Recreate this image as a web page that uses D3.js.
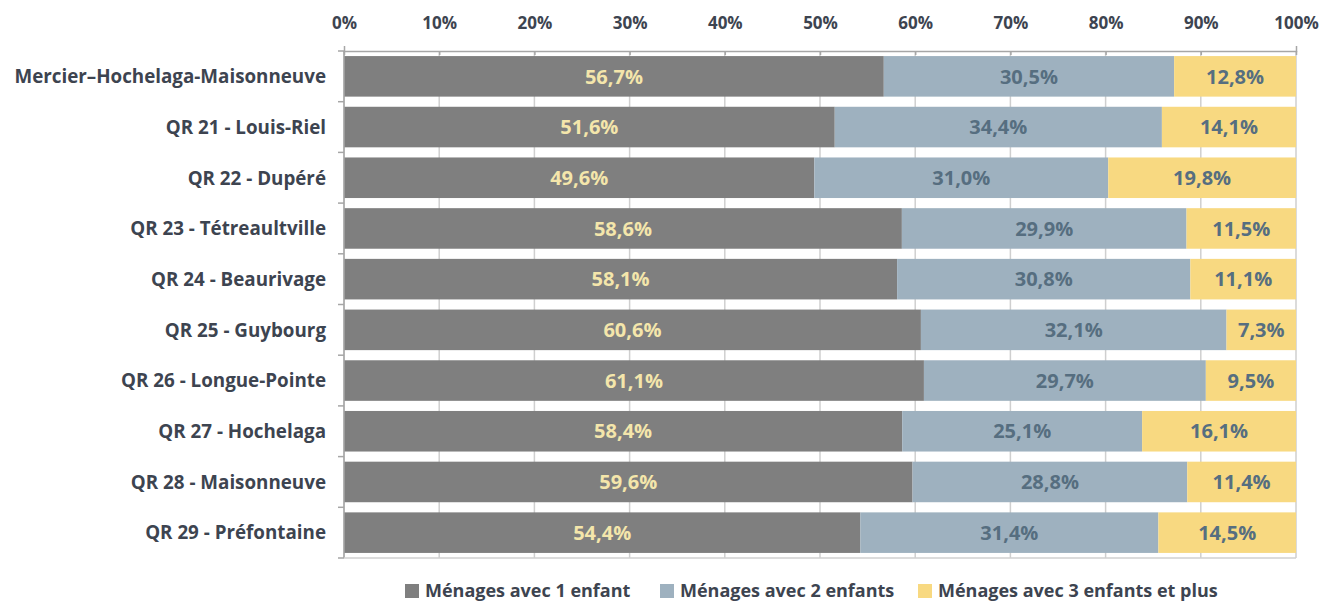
<!DOCTYPE html>
<html>
<head>
<meta charset="utf-8">
<script src="https://cdn.jsdelivr.net/npm/d3@7"></script>
<style>
  body { margin: 0; background: #fff; }
  text { font-family: "Open Sans", Lato, sans-serif; font-weight: bold; }
</style>
</head>
<body>
<div id="chart"></div>
<script>
// data
const categories = [
    "Mercier\u2013Hochelaga-Maisonneuve",
    "QR 21 - Louis-Riel",
    "QR 22 - Dupéré",
    "QR 23 - Tétreaultville",
    "QR 24 - Beaurivage",
    "QR 25 - Guybourg",
    "QR 26 - Longue-Pointe",
    "QR 27 - Hochelaga",
    "QR 28 - Maisonneuve",
    "QR 29 - Préfontaine"
];
const seriesNames = ["Ménages avec 1 enfant", "Ménages avec 2 enfants", "Ménages avec 3 enfants et plus"];
const oneChild = [56.7, 51.6, 49.6, 58.6, 58.1, 60.6, 61.1, 58.4, 59.6, 54.4];
const twoChildren = [30.5, 34.4, 31.0, 29.9, 30.8, 32.1, 29.7, 25.1, 28.8, 31.4];
const threePlus = [12.8, 14.1, 19.8, 11.5, 11.1, 7.3, 9.5, 16.1, 11.4, 14.5];
const tickValues = [0, 10, 20, 30, 40, 50, 60, 70, 80, 90, 100];

const colors = ["#7f7f7f", "#9eb1bf", "#f8d981"];
const labelColors = ["#f4e6ab", "#566e80", "#566e80"];

const margin = { top: 51, right: 26, bottom: 44, left: 344 };
const width = 1322 - margin.left - margin.right;
const height = 602 - margin.top - margin.bottom;

const svg = d3.select("#chart").append("svg")
    .attr("width", 1322)
    .attr("height", 602);

const g = svg.append("g")
    .attr("transform", `translate(${margin.left},${margin.top})`);

const x = d3.scaleLinear().domain([0, 100]).range([0, width]);
const y = d3.scaleBand().domain(categories).range([0, height]).paddingInner(0.2).paddingOuter(0.1);

// gridlines
g.selectAll(".grid")
    .data(tickValues)
    .enter().append("line")
    .attr("x1", d => x(d)).attr("x2", d => x(d))
    .attr("y1", 0).attr("y2", height)
    .attr("stroke", "#cfcfcf")
    .attr("stroke-width", 1.5);

// stacked rows, 100% stacked (normalised by row total like the source chart)
const rows = categories.map((c, i) => ({ cat: c, vals: [oneChild[i], twoChildren[i], threePlus[i]] }));
rows.forEach(r => {
    const total = d3.sum(r.vals);
    let start = 0;
    r.vals.forEach((v, k) => {
        const s = start / total * 100, e = (start + v) / total * 100;
        g.append("rect")
            .attr("x", x(s))
            .attr("y", y(r.cat))
            .attr("width", x(e) - x(s))
            .attr("height", y.bandwidth())
            .attr("fill", colors[k]);
        g.append("text")
            .attr("x", x((s + e) / 2))
            .attr("y", y(r.cat) + y.bandwidth() / 2)
            .attr("dy", "0.36em")
            .attr("text-anchor", "middle")
            .attr("fill", labelColors[k])
            .style("font-size", "20px")
            .text(v.toFixed(1).replace(".", ",") + "%");
        start += v;
    });
});

// top axis
const xAxis = g.append("g")
    .call(d3.axisTop(x).tickValues(tickValues).tickFormat(d => d + "%").tickSize(5).tickPadding(17));
xAxis.select(".domain").attr("stroke", "#a6a6a6").attr("stroke-width", 1.5);
xAxis.selectAll(".tick line").attr("stroke", "#a6a6a6").attr("stroke-width", 1.5).attr("y2", 4);
xAxis.selectAll(".tick text").attr("fill", "#3d4450").style("font-size", "17px");

// left axis with ticks at category boundaries
const yAxis = g.append("g");
yAxis.append("line")
    .attr("x1", 0).attr("x2", 0).attr("y1", 0).attr("y2", height)
    .attr("stroke", "#a6a6a6").attr("stroke-width", 1.5);
const step = y.step();
yAxis.selectAll(".bt")
    .data(d3.range(categories.length + 1))
    .enter().append("line")
    .attr("x1", -6).attr("x2", 0)
    .attr("y1", i => Math.min(i * step, height)).attr("y2", i => Math.min(i * step, height))
    .attr("stroke", "#a6a6a6").attr("stroke-width", 1.5);
yAxis.selectAll(".cl")
    .data(categories)
    .enter().append("text")
    .attr("x", -18)
    .attr("y", d => y(d) + y.bandwidth() / 2)
    .attr("dy", "0.36em")
    .attr("text-anchor", "end")
    .attr("fill", "#3d4450")
    .style("font-size", "18.8px")
    .text(d => d);

// bottom line
g.append("line")
    .attr("x1", 0).attr("x2", width).attr("y1", height).attr("y2", height)
    .attr("stroke", "#d0d0d0").attr("stroke-width", 1.5);

// legend
const legend = svg.append("g").attr("transform", "translate(405,591)");
const legendX = [0, 255, 513];
seriesNames.forEach((s, k) => {
    const item = legend.append("g").attr("transform", `translate(${legendX[k]},0)`);
    item.append("rect").attr("x", 0).attr("y", -7).attr("width", 14).attr("height", 14).attr("fill", colors[k]);
    item.append("text").attr("x", 20).attr("y", 0).attr("dy", "0.36em")
        .attr("fill", "#3d4450").style("font-size", "18px").text(s);
});
</script>
</body>
</html>
